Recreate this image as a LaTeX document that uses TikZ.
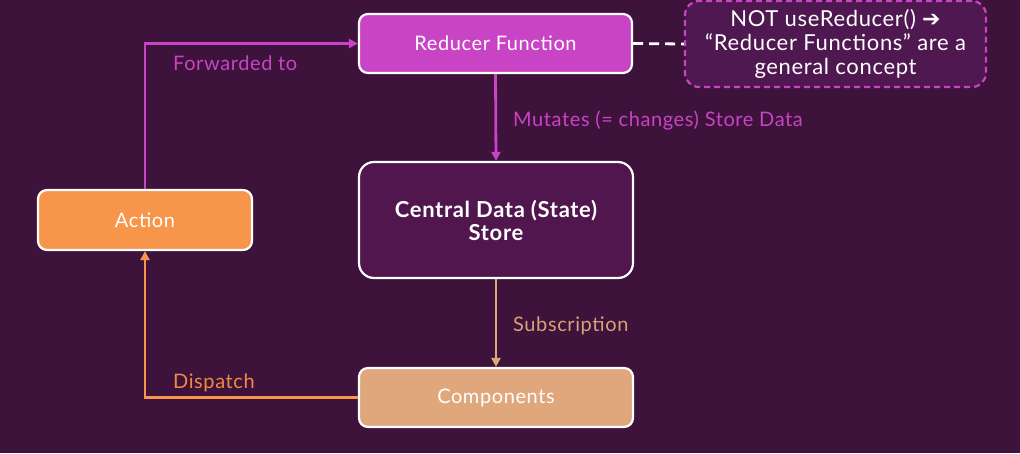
\documentclass[tikz,border=0pt]{standalone}
\usepackage{fontspec}
\setmainfont{Lato}[LetterSpace=3]
\newfontfamily\symfont{DejaVu Sans}
\usetikzlibrary{arrows.meta}
\definecolor{bgpurple}{RGB}{61,18,59}
\definecolor{magentab}{RGB}{201,67,197}
\definecolor{storefill}{RGB}{82,22,79}
\definecolor{notefill}{RGB}{80,24,80}
\definecolor{orangeb}{RGB}{247,149,74}
\definecolor{tanb}{RGB}{224,167,124}
\definecolor{dispatchtxt}{RGB}{240,138,62}
\definecolor{subtxt}{RGB}{217,160,122}
\tikzset{
  box/.style={draw=white, line width=2.2pt, rounded corners=9pt, text=white,
    font=\fontsize{20}{24}\selectfont, align=center, inner sep=0pt},
  flow/.style={line width=2.8pt, -{Triangle[length=9pt,width=9pt]}},
  lbl/.style={font=\fontsize{20}{24}\selectfont, anchor=west, inner sep=0pt}
}
\begin{document}
\begin{tikzpicture}[x=1pt,y=-1pt]
  \fill[bgpurple] (0,0) rectangle (1020,453);
  \useasboundingbox (0,0) rectangle (1020,453);

  % boxes
  \node[box, fill=magentab, minimum width=273pt, minimum height=59pt] (reducer) at (495.5,43.5) {Reducer Function};
  \node[box, fill=storefill, minimum width=274pt, minimum height=116pt, rounded corners=15pt,
        font=\fontsize{22}{23}\selectfont\bfseries] (store) at (496,220) {Central Data (State)\\Store};
  \node[box, fill=orangeb, minimum width=214pt, minimum height=60pt] (action) at (145,220) {Action};
  \node[box, fill=tanb, minimum width=274pt, minimum height=59pt] (comp) at (496,397.5) {Components};
  \node[box, draw=magentab, dashed, dash pattern=on 6pt off 4pt, fill=notefill,
        minimum width=301pt, minimum height=86pt, rounded corners=14pt,
        font=\fontsize{22}{24}\selectfont] (note) at (835.5,44)
        {NOT useReducer() {\symfont\bfseries\char"2794}\\``Reducer Functions'' are a\\general concept};

  % connectors
  \draw[flow, magentab] (action.north) |- (reducer.west);
  \draw[flow, magentab] (reducer.south) -- (store.north);
  \draw[flow, tanb] (store.south) -- (comp.north);
  \draw[flow, orangeb] (comp.west) -| (action.south);
  \draw[white, line width=2.8pt, dash pattern=on 10pt off 6pt] (reducer.east) -- (note.west);

  % connector labels
  \node[lbl, text=magentab] (lfwd) at (173,63.5) {Forwarded to};
  \node[lbl, text=magentab] (lmut) at (513,120.5) {Mutates (= changes) Store Data};
  \node[lbl, text=subtxt] (lsub) at (513,325.5) {Subscription};
  \node[lbl, text=dispatchtxt] (ldis) at (173,382.5) {Dispatch};
\end{tikzpicture}
\end{document}
